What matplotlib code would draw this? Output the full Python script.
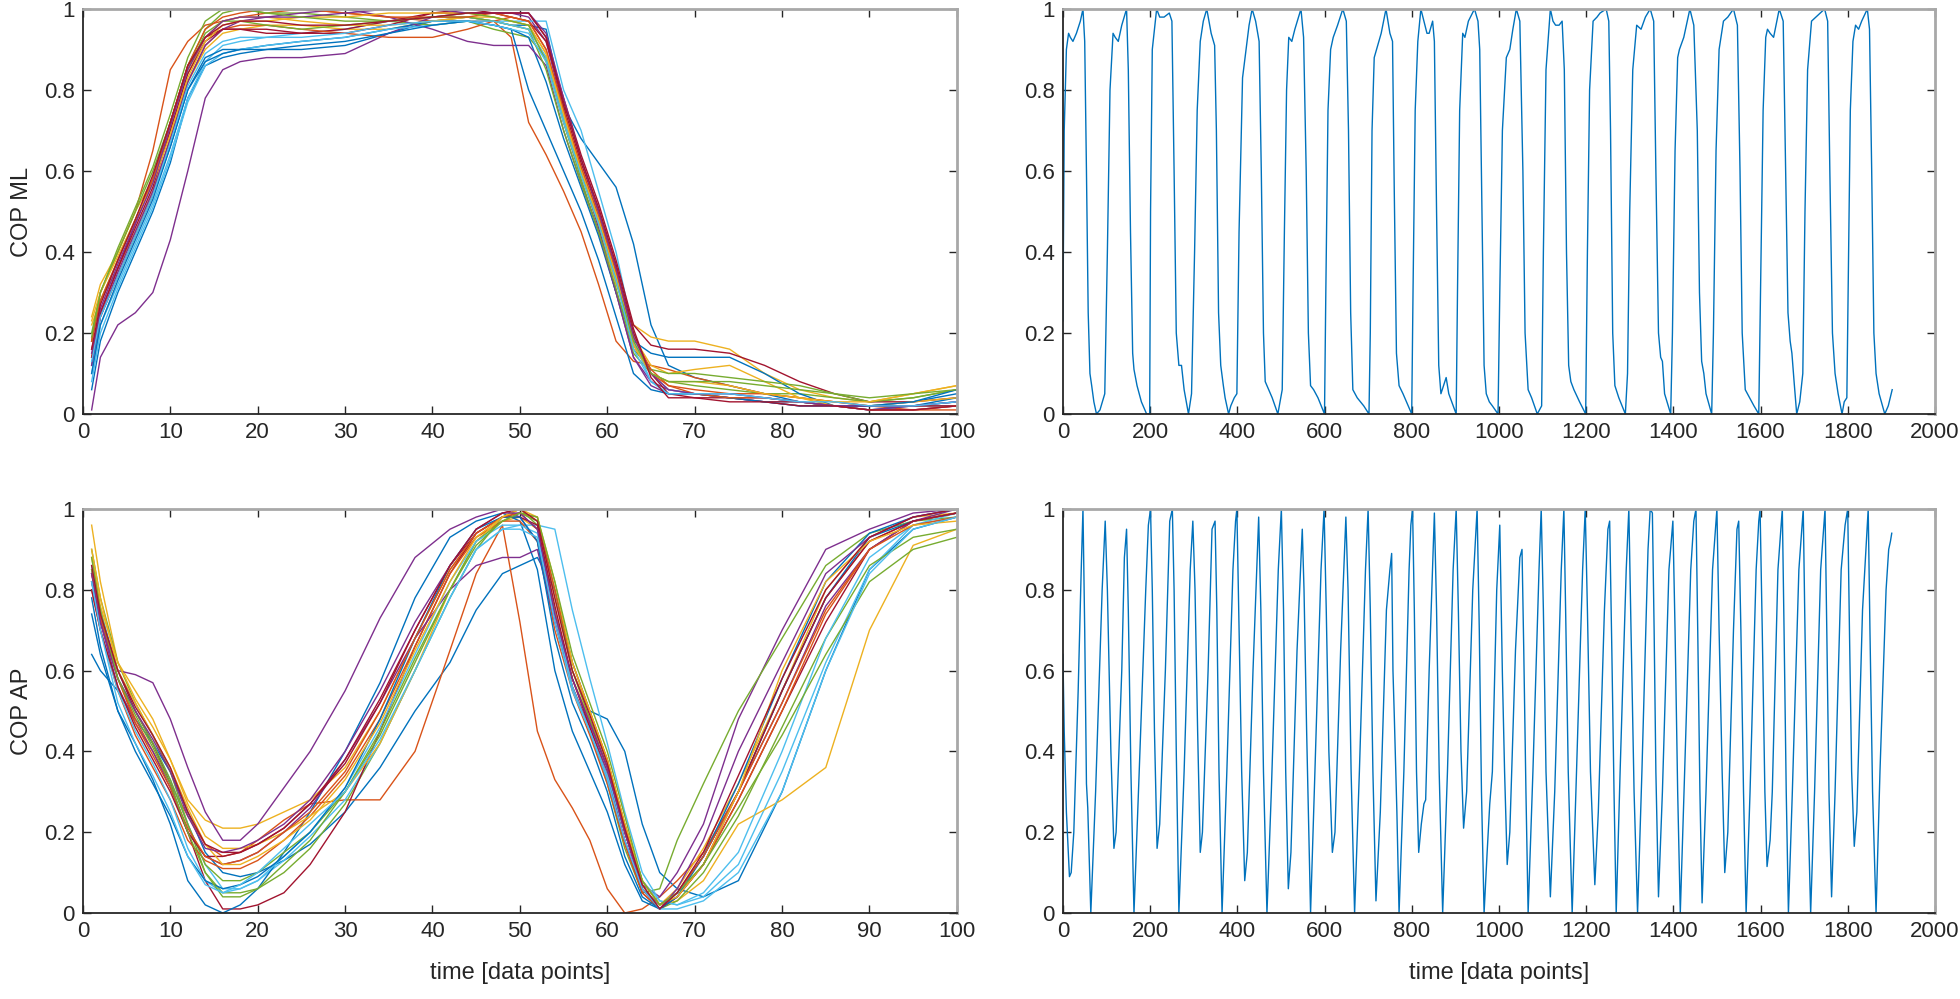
import numpy as np
import matplotlib
matplotlib.use("Agg")
import matplotlib.pyplot as plt

plt.rcParams['font.family'] = ['Liberation Sans', 'DejaVu Sans']

# MATLAB default line colours
colors = ['#0072BD', '#D95319', '#EDB120', '#7E2F8E', '#77AC30', '#4DBEEE', '#A2142F']

# ---- normalised gait cycles, COP ML (x = data point of the cycle) ----
ml_x = [1, 2, 4, 6, 8, 10, 12, 14, 16, 18, 21, 25, 30, 35, 40, 44, 47, 49, 51,
        53, 55, 57, 59, 61, 63, 65, 67, 70, 74, 78, 82, 86, 90, 95, 100]
ml_curves = [
    [0.06, 0.18, 0.30, 0.40, 0.50, 0.62, 0.78, 0.86, 0.88, 0.89, 0.90, 0.90, 0.91, 0.94, 0.97, 0.98, 0.97, 0.96, 0.96, 0.95, 0.76, 0.68, 0.62, 0.56, 0.42, 0.22, 0.12, 0.09, 0.07, 0.05, 0.03, 0.02, 0.02, 0.03, 0.05],
    [0.18, 0.30, 0.40, 0.50, 0.65, 0.85, 0.92, 0.96, 0.97, 0.98, 0.99, 1.00, 0.99, 0.98, 0.97, 0.97, 0.97, 0.93, 0.72, 0.64, 0.55, 0.45, 0.32, 0.18, 0.13, 0.12, 0.11, 0.09, 0.07, 0.05, 0.04, 0.03, 0.02, 0.01, 0.01],
    [0.22, 0.28, 0.36, 0.45, 0.55, 0.68, 0.82, 0.90, 0.94, 0.95, 0.96, 0.96, 0.95, 0.95, 0.97, 0.98, 0.97, 0.96, 0.95, 0.88, 0.74, 0.60, 0.46, 0.32, 0.22, 0.19, 0.18, 0.18, 0.16, 0.10, 0.06, 0.04, 0.03, 0.05, 0.07],
    [0.01, 0.14, 0.22, 0.25, 0.30, 0.43, 0.60, 0.78, 0.85, 0.87, 0.88, 0.88, 0.89, 0.94, 0.98, 0.99, 0.99, 0.99, 0.98, 0.92, 0.75, 0.60, 0.46, 0.30, 0.14, 0.08, 0.06, 0.05, 0.04, 0.03, 0.02, 0.02, 0.01, 0.01, 0.02],
    [0.18, 0.28, 0.38, 0.48, 0.58, 0.72, 0.86, 0.95, 0.99, 1.00, 0.99, 0.99, 0.98, 0.97, 0.96, 0.97, 0.95, 0.94, 0.93, 0.88, 0.72, 0.58, 0.45, 0.30, 0.15, 0.10, 0.08, 0.07, 0.06, 0.05, 0.05, 0.04, 0.03, 0.04, 0.06],
    [0.10, 0.22, 0.32, 0.42, 0.52, 0.64, 0.78, 0.87, 0.91, 0.92, 0.93, 0.94, 0.95, 0.97, 0.98, 0.98, 0.97, 0.97, 0.97, 0.97, 0.80, 0.70, 0.55, 0.40, 0.20, 0.10, 0.06, 0.05, 0.04, 0.03, 0.03, 0.02, 0.02, 0.02, 0.03],
    [0.16, 0.25, 0.36, 0.47, 0.58, 0.72, 0.86, 0.93, 0.95, 0.95, 0.94, 0.94, 0.95, 0.97, 0.99, 0.99, 0.99, 0.98, 0.97, 0.92, 0.78, 0.64, 0.52, 0.38, 0.22, 0.17, 0.16, 0.16, 0.15, 0.12, 0.08, 0.05, 0.03, 0.03, 0.04],
    [0.12, 0.24, 0.34, 0.44, 0.54, 0.66, 0.80, 0.88, 0.90, 0.90, 0.91, 0.92, 0.93, 0.95, 0.97, 0.97, 0.96, 0.95, 0.93, 0.82, 0.68, 0.56, 0.44, 0.30, 0.18, 0.15, 0.14, 0.14, 0.14, 0.10, 0.05, 0.02, 0.01, 0.02, 0.04],
    [0.14, 0.24, 0.34, 0.44, 0.54, 0.68, 0.82, 0.91, 0.95, 0.96, 0.96, 0.95, 0.94, 0.93, 0.93, 0.95, 0.97, 0.98, 0.97, 0.90, 0.74, 0.60, 0.48, 0.33, 0.17, 0.10, 0.07, 0.06, 0.05, 0.05, 0.04, 0.03, 0.02, 0.02, 0.02],
    [0.24, 0.32, 0.40, 0.50, 0.58, 0.70, 0.84, 0.93, 0.97, 0.98, 0.98, 0.97, 0.96, 0.96, 0.97, 0.98, 0.98, 0.97, 0.96, 0.89, 0.74, 0.61, 0.49, 0.35, 0.19, 0.12, 0.10, 0.11, 0.12, 0.08, 0.04, 0.02, 0.02, 0.03, 0.04],
    [0.12, 0.24, 0.35, 0.45, 0.55, 0.68, 0.82, 0.91, 0.95, 0.97, 0.98, 0.99, 1.00, 0.98, 0.95, 0.92, 0.91, 0.91, 0.91, 0.86, 0.70, 0.57, 0.45, 0.30, 0.14, 0.07, 0.05, 0.05, 0.04, 0.04, 0.03, 0.02, 0.01, 0.02, 0.03],
    [0.20, 0.30, 0.40, 0.50, 0.60, 0.72, 0.85, 0.94, 0.97, 0.97, 0.96, 0.95, 0.96, 0.97, 0.98, 0.98, 0.97, 0.96, 0.95, 0.85, 0.70, 0.57, 0.45, 0.31, 0.16, 0.11, 0.10, 0.10, 0.09, 0.08, 0.07, 0.05, 0.03, 0.04, 0.06],
    [0.08, 0.20, 0.31, 0.41, 0.51, 0.63, 0.77, 0.86, 0.89, 0.90, 0.91, 0.92, 0.93, 0.95, 0.96, 0.97, 0.97, 0.96, 0.95, 0.88, 0.73, 0.60, 0.48, 0.34, 0.18, 0.08, 0.05, 0.05, 0.05, 0.04, 0.03, 0.02, 0.02, 0.02, 0.02],
    [0.14, 0.25, 0.36, 0.46, 0.56, 0.70, 0.84, 0.92, 0.95, 0.95, 0.95, 0.94, 0.94, 0.96, 0.99, 1.00, 0.99, 0.99, 0.99, 0.93, 0.76, 0.62, 0.50, 0.36, 0.20, 0.10, 0.05, 0.04, 0.04, 0.03, 0.03, 0.02, 0.02, 0.02, 0.02],
    [0.10, 0.22, 0.33, 0.43, 0.53, 0.66, 0.80, 0.87, 0.89, 0.90, 0.90, 0.91, 0.92, 0.94, 0.96, 0.97, 0.96, 0.95, 0.80, 0.70, 0.60, 0.50, 0.38, 0.24, 0.10, 0.06, 0.05, 0.05, 0.04, 0.03, 0.02, 0.02, 0.02, 0.03, 0.06],
    [0.18, 0.28, 0.38, 0.48, 0.58, 0.72, 0.86, 0.95, 0.98, 0.99, 1.00, 1.00, 0.99, 0.98, 0.98, 0.98, 0.99, 0.98, 0.97, 0.90, 0.75, 0.61, 0.49, 0.35, 0.19, 0.11, 0.07, 0.05, 0.04, 0.04, 0.03, 0.02, 0.01, 0.01, 0.02],
    [0.23, 0.30, 0.39, 0.48, 0.57, 0.69, 0.83, 0.92, 0.96, 0.97, 0.97, 0.98, 0.98, 0.99, 0.99, 0.99, 0.98, 0.97, 0.96, 0.89, 0.74, 0.60, 0.48, 0.34, 0.17, 0.10, 0.08, 0.08, 0.07, 0.05, 0.04, 0.03, 0.03, 0.05, 0.07],
    [0.15, 0.26, 0.37, 0.47, 0.57, 0.71, 0.85, 0.93, 0.97, 0.98, 0.98, 0.98, 0.99, 1.00, 1.00, 0.99, 0.99, 0.99, 0.99, 0.94, 0.78, 0.63, 0.50, 0.36, 0.19, 0.10, 0.06, 0.05, 0.05, 0.04, 0.03, 0.02, 0.02, 0.02, 0.03],
    [0.19, 0.30, 0.41, 0.51, 0.61, 0.74, 0.88, 0.97, 1.00, 1.00, 0.99, 0.98, 0.97, 0.97, 0.98, 0.99, 0.98, 0.97, 0.96, 0.87, 0.72, 0.59, 0.47, 0.33, 0.18, 0.10, 0.08, 0.08, 0.08, 0.07, 0.06, 0.05, 0.04, 0.05, 0.06],
    [0.13, 0.24, 0.34, 0.44, 0.54, 0.67, 0.81, 0.89, 0.92, 0.93, 0.93, 0.93, 0.94, 0.96, 0.97, 0.97, 0.96, 0.95, 0.94, 0.87, 0.72, 0.59, 0.47, 0.33, 0.16, 0.08, 0.05, 0.05, 0.05, 0.04, 0.03, 0.03, 0.02, 0.02, 0.03],
    [0.16, 0.27, 0.38, 0.48, 0.59, 0.72, 0.86, 0.93, 0.96, 0.97, 0.97, 0.96, 0.96, 0.97, 0.98, 0.99, 0.99, 0.99, 0.99, 0.93, 0.77, 0.63, 0.51, 0.37, 0.21, 0.09, 0.04, 0.04, 0.03, 0.03, 0.02, 0.02, 0.01, 0.01, 0.02],
]

# ---- normalised gait cycles, COP AP ----
ap_x = [1, 2, 4, 6, 8, 10, 12, 14, 16, 18, 20, 23, 26, 30, 34, 38, 42, 45, 48,
        50, 52, 54, 56, 58, 60, 62, 64, 66, 68, 71, 75, 80, 85, 90, 95, 100]
ap_curves = [
    [0.64, 0.60, 0.55, 0.48, 0.42, 0.35, 0.25, 0.15, 0.10, 0.09, 0.10, 0.13, 0.17, 0.25, 0.36, 0.50, 0.62, 0.75, 0.84, 0.86, 0.88, 0.80, 0.62, 0.50, 0.48, 0.40, 0.22, 0.10, 0.06, 0.04, 0.08, 0.30, 0.60, 0.85, 0.95, 0.98],
    [0.82, 0.72, 0.58, 0.48, 0.40, 0.32, 0.24, 0.17, 0.14, 0.15, 0.18, 0.23, 0.27, 0.28, 0.28, 0.40, 0.65, 0.84, 0.96, 0.72, 0.45, 0.33, 0.26, 0.18, 0.06, 0.00, 0.01, 0.04, 0.08, 0.15, 0.30, 0.55, 0.78, 0.92, 0.97, 0.99],
    [0.96, 0.82, 0.62, 0.55, 0.48, 0.38, 0.28, 0.23, 0.21, 0.21, 0.22, 0.25, 0.28, 0.36, 0.50, 0.68, 0.85, 0.93, 0.97, 0.98, 0.95, 0.75, 0.58, 0.48, 0.38, 0.22, 0.08, 0.02, 0.06, 0.16, 0.32, 0.55, 0.80, 0.93, 0.98, 0.99],
    [0.85, 0.72, 0.60, 0.59, 0.57, 0.48, 0.36, 0.25, 0.18, 0.18, 0.22, 0.31, 0.40, 0.55, 0.73, 0.88, 0.95, 0.98, 1.00, 0.98, 0.92, 0.72, 0.56, 0.46, 0.35, 0.20, 0.07, 0.04, 0.10, 0.22, 0.48, 0.70, 0.90, 0.95, 0.99, 1.00],
    [0.90, 0.78, 0.62, 0.52, 0.44, 0.35, 0.22, 0.10, 0.05, 0.05, 0.06, 0.10, 0.16, 0.27, 0.42, 0.60, 0.78, 0.90, 0.98, 1.00, 0.96, 0.74, 0.56, 0.45, 0.32, 0.16, 0.05, 0.06, 0.18, 0.32, 0.50, 0.68, 0.86, 0.94, 0.97, 0.98],
    [0.86, 0.75, 0.60, 0.50, 0.42, 0.33, 0.22, 0.12, 0.06, 0.06, 0.08, 0.13, 0.19, 0.28, 0.42, 0.60, 0.78, 0.90, 0.95, 0.96, 0.96, 0.95, 0.75, 0.58, 0.42, 0.25, 0.10, 0.03, 0.02, 0.04, 0.12, 0.35, 0.62, 0.85, 0.96, 0.99],
    [0.84, 0.74, 0.60, 0.50, 0.42, 0.32, 0.20, 0.08, 0.01, 0.01, 0.02, 0.05, 0.12, 0.25, 0.45, 0.66, 0.84, 0.94, 0.98, 0.99, 0.95, 0.74, 0.58, 0.46, 0.34, 0.18, 0.05, 0.01, 0.04, 0.12, 0.28, 0.50, 0.72, 0.90, 0.97, 0.99],
    [0.78, 0.66, 0.50, 0.42, 0.33, 0.22, 0.08, 0.02, 0.00, 0.02, 0.06, 0.15, 0.25, 0.40, 0.57, 0.78, 0.93, 0.97, 0.99, 0.97, 0.85, 0.60, 0.45, 0.35, 0.25, 0.12, 0.03, 0.01, 0.05, 0.14, 0.30, 0.55, 0.78, 0.93, 0.97, 0.99],
    [0.80, 0.70, 0.55, 0.44, 0.36, 0.28, 0.18, 0.13, 0.11, 0.11, 0.13, 0.18, 0.24, 0.34, 0.48, 0.66, 0.84, 0.93, 0.97, 0.97, 0.92, 0.70, 0.55, 0.44, 0.32, 0.17, 0.05, 0.01, 0.04, 0.12, 0.28, 0.50, 0.74, 0.90, 0.97, 0.99],
    [0.88, 0.76, 0.62, 0.53, 0.46, 0.38, 0.27, 0.19, 0.16, 0.16, 0.17, 0.20, 0.24, 0.30, 0.42, 0.60, 0.80, 0.92, 0.98, 1.00, 0.97, 0.78, 0.60, 0.50, 0.38, 0.22, 0.08, 0.02, 0.03, 0.08, 0.22, 0.28, 0.36, 0.70, 0.91, 0.95],
    [0.82, 0.72, 0.56, 0.47, 0.40, 0.31, 0.20, 0.14, 0.12, 0.13, 0.15, 0.20, 0.26, 0.38, 0.52, 0.68, 0.80, 0.86, 0.88, 0.88, 0.90, 0.72, 0.56, 0.45, 0.33, 0.18, 0.06, 0.02, 0.05, 0.14, 0.30, 0.52, 0.76, 0.90, 0.97, 1.00],
    [0.85, 0.74, 0.58, 0.50, 0.42, 0.33, 0.22, 0.12, 0.08, 0.08, 0.10, 0.15, 0.20, 0.30, 0.44, 0.62, 0.80, 0.92, 0.97, 0.99, 0.97, 0.80, 0.60, 0.48, 0.36, 0.20, 0.07, 0.01, 0.03, 0.10, 0.24, 0.46, 0.68, 0.86, 0.93, 0.95],
    [0.82, 0.70, 0.55, 0.45, 0.37, 0.28, 0.16, 0.08, 0.05, 0.06, 0.08, 0.14, 0.20, 0.31, 0.46, 0.64, 0.82, 0.92, 0.96, 0.96, 0.94, 0.74, 0.56, 0.45, 0.34, 0.20, 0.08, 0.03, 0.02, 0.05, 0.15, 0.40, 0.68, 0.88, 0.96, 0.98],
    [0.80, 0.70, 0.56, 0.46, 0.38, 0.30, 0.20, 0.14, 0.14, 0.15, 0.17, 0.21, 0.27, 0.37, 0.52, 0.70, 0.86, 0.94, 0.98, 0.98, 0.96, 0.76, 0.58, 0.47, 0.36, 0.20, 0.06, 0.01, 0.04, 0.12, 0.30, 0.55, 0.78, 0.92, 0.97, 0.99],
    [0.74, 0.64, 0.50, 0.40, 0.32, 0.24, 0.14, 0.08, 0.06, 0.07, 0.09, 0.14, 0.20, 0.31, 0.48, 0.68, 0.86, 0.95, 0.98, 0.98, 0.92, 0.68, 0.52, 0.42, 0.30, 0.14, 0.04, 0.01, 0.04, 0.14, 0.32, 0.58, 0.82, 0.94, 0.98, 1.00],
    [0.84, 0.73, 0.58, 0.47, 0.39, 0.31, 0.21, 0.14, 0.12, 0.13, 0.15, 0.20, 0.25, 0.35, 0.50, 0.68, 0.85, 0.94, 0.98, 0.99, 0.98, 0.80, 0.62, 0.50, 0.38, 0.22, 0.08, 0.02, 0.05, 0.14, 0.30, 0.52, 0.75, 0.90, 0.96, 0.98],
    [0.90, 0.78, 0.60, 0.52, 0.44, 0.36, 0.26, 0.17, 0.12, 0.12, 0.14, 0.18, 0.23, 0.33, 0.47, 0.65, 0.82, 0.93, 0.98, 1.00, 0.98, 0.82, 0.62, 0.50, 0.38, 0.22, 0.08, 0.02, 0.04, 0.12, 0.30, 0.60, 0.82, 0.92, 0.96, 0.97],
    [0.84, 0.72, 0.58, 0.50, 0.43, 0.35, 0.24, 0.16, 0.15, 0.16, 0.18, 0.22, 0.28, 0.40, 0.55, 0.72, 0.86, 0.95, 0.99, 0.99, 0.95, 0.74, 0.58, 0.47, 0.36, 0.20, 0.06, 0.01, 0.06, 0.18, 0.40, 0.62, 0.84, 0.93, 0.98, 1.00],
    [0.88, 0.75, 0.58, 0.49, 0.41, 0.32, 0.20, 0.10, 0.04, 0.04, 0.06, 0.12, 0.18, 0.30, 0.45, 0.63, 0.80, 0.91, 0.97, 0.99, 0.98, 0.82, 0.64, 0.52, 0.40, 0.24, 0.08, 0.02, 0.05, 0.12, 0.26, 0.44, 0.64, 0.82, 0.90, 0.93],
    [0.82, 0.70, 0.52, 0.42, 0.34, 0.25, 0.14, 0.07, 0.05, 0.07, 0.10, 0.16, 0.22, 0.30, 0.43, 0.60, 0.78, 0.90, 0.95, 0.95, 0.93, 0.72, 0.55, 0.45, 0.33, 0.18, 0.06, 0.01, 0.01, 0.03, 0.10, 0.30, 0.60, 0.84, 0.95, 0.98],
    [0.86, 0.74, 0.60, 0.51, 0.44, 0.36, 0.25, 0.17, 0.15, 0.15, 0.17, 0.21, 0.27, 0.38, 0.53, 0.70, 0.86, 0.95, 0.99, 1.00, 0.97, 0.78, 0.60, 0.49, 0.37, 0.21, 0.07, 0.01, 0.05, 0.15, 0.34, 0.58, 0.80, 0.93, 0.98, 1.00],
]

# ---- full recording, COP ML (turning points) ----
ml_t = [0, 3, 8, 13, 17, 23, 31, 40, 46, 50, 54, 58, 62, 66, 71, 77,
        85, 96, 102, 108, 115, 120, 127, 135, 146, 150, 155, 160, 163, 170, 180, 192,
        199, 201, 205, 215, 222, 232, 244, 250, 255, 260, 266, 272, 278, 288,
        295, 302, 308, 315, 322, 330, 340, 348, 352, 357, 362, 368, 372, 380, 385, 393,
        399, 404, 412, 420, 427, 434, 442, 450, 455, 460, 464, 472, 480, 493,
        503, 508, 513, 518, 525, 532, 546, 552, 558, 563, 568, 575, 585, 600,
        603, 608, 614, 620, 630, 642, 650, 655, 660, 665, 675, 690, 702,
        705, 709, 714, 722, 730, 741, 750, 756, 760, 765, 771, 780, 788, 800,
        803, 808, 814, 821, 828, 835, 840, 848, 852, 857, 862, 867, 873, 879, 885, 902,
        905, 910, 917, 922, 930, 944, 952, 956, 961, 966, 971, 978, 985, 998,
        1002, 1008, 1017, 1025, 1032, 1040, 1048, 1055, 1060, 1067, 1075, 1088, 1098,
        1102, 1108, 1118, 1124, 1130, 1138, 1145, 1150, 1155, 1160, 1165, 1172, 1185, 1199,
        1203, 1208, 1216, 1225, 1232, 1246, 1252, 1256, 1261, 1266, 1275, 1290,
        1295, 1300, 1307, 1316, 1326, 1336, 1347, 1355, 1360, 1366, 1371, 1375, 1380, 1394,
        1398, 1404, 1410, 1414, 1424, 1438, 1447, 1455, 1460, 1465, 1470, 1475, 1488,
        1492, 1498, 1505, 1515, 1525, 1538, 1547, 1553, 1558, 1565, 1575, 1585, 1596,
        1600, 1606, 1612, 1616, 1622, 1630, 1643, 1652, 1657, 1663, 1668, 1672, 1677, 1683,
        1690, 1697, 1702, 1708, 1717, 1727, 1737, 1747, 1754, 1759, 1765, 1771, 1778, 1787, 1792, 1798,
        1801, 1806, 1812, 1818, 1825, 1832, 1845, 1850, 1855, 1860, 1865, 1872, 1885, 1893, 1902]
ml_v = [0.23, 0.70, 0.90, 0.94, 0.93, 0.92, 0.94, 0.97, 1.00, 0.92, 0.60, 0.25, 0.10, 0.07, 0.03, 0.00,
        0.01, 0.05, 0.40, 0.80, 0.94, 0.93, 0.92, 0.96, 1.00, 0.85, 0.45, 0.15, 0.11, 0.07, 0.03, 0.00,
        0.00, 0.50, 0.90, 1.00, 0.98, 0.98, 0.99, 0.97, 0.60, 0.20, 0.12, 0.12, 0.06, 0.00,
        0.05, 0.40, 0.75, 0.92, 0.97, 1.00, 0.94, 0.91, 0.70, 0.25, 0.12, 0.07, 0.04, 0.00, 0.02, 0.04,
        0.05, 0.45, 0.83, 0.90, 0.96, 1.00, 0.97, 0.92, 0.60, 0.20, 0.08, 0.06, 0.04, 0.00,
        0.06, 0.45, 0.80, 0.93, 0.92, 0.95, 1.00, 0.93, 0.60, 0.20, 0.07, 0.06, 0.04, 0.00,
        0.30, 0.75, 0.90, 0.93, 0.96, 1.00, 0.97, 0.70, 0.25, 0.06, 0.04, 0.02, 0.00,
        0.20, 0.70, 0.88, 0.91, 0.94, 1.00, 0.94, 0.92, 0.55, 0.15, 0.07, 0.05, 0.03, 0.00,
        0.30, 0.75, 0.92, 1.00, 0.97, 0.94, 0.94, 0.97, 0.92, 0.50, 0.12, 0.05, 0.07, 0.09, 0.05, 0.00,
        0.30, 0.75, 0.94, 0.93, 0.97, 1.00, 0.97, 0.90, 0.50, 0.12, 0.05, 0.03, 0.02, 0.00,
        0.30, 0.70, 0.88, 0.90, 0.95, 1.00, 0.97, 0.60, 0.20, 0.06, 0.04, 0.00, 0.02,
        0.40, 0.85, 1.00, 0.97, 0.96, 0.96, 0.97, 0.85, 0.40, 0.12, 0.08, 0.06, 0.03, 0.00,
        0.40, 0.80, 0.97, 0.98, 0.99, 1.00, 0.97, 0.70, 0.20, 0.07, 0.04, 0.00,
        0.10, 0.50, 0.85, 0.96, 0.95, 0.98, 1.00, 0.97, 0.60, 0.20, 0.14, 0.13, 0.05, 0.00,
        0.20, 0.65, 0.88, 0.90, 0.93, 1.00, 0.96, 0.70, 0.30, 0.13, 0.10, 0.05, 0.00,
        0.20, 0.65, 0.90, 0.97, 0.98, 1.00, 0.96, 0.60, 0.20, 0.06, 0.04, 0.02, 0.00,
        0.30, 0.75, 0.93, 0.95, 0.94, 0.93, 1.00, 0.97, 0.65, 0.25, 0.18, 0.15, 0.08, 0.00,
        0.03, 0.10, 0.50, 0.85, 0.97, 0.98, 0.99, 1.00, 0.97, 0.60, 0.20, 0.10, 0.05, 0.00, 0.03, 0.04,
        0.30, 0.75, 0.92, 0.96, 0.95, 0.97, 1.00, 0.95, 0.60, 0.20, 0.10, 0.05, 0.00, 0.02, 0.06]

# ---- full recording, COP AP ----
ap_t = [0, 3, 8, 15, 19, 25, 35, 42, 46, 50, 54, 57, 64,
        75, 90, 97, 102, 110, 117, 122, 135, 141, 144, 146, 150, 156, 163,
        175, 190, 196, 201, 205, 210, 216, 222, 235, 245, 251, 255, 260, 266,
        278, 292, 298, 303, 309, 315, 320, 333, 342, 349, 353, 358, 365,
        376, 390, 396, 399, 404, 410, 417, 423, 436, 449, 454, 460, 468,
        478, 494, 501, 506, 511, 517, 523, 537, 549, 553, 559, 568,
        578, 592, 599, 604, 610, 618, 624, 637, 649, 654, 661, 669,
        680, 694, 700, 705, 711, 718, 728, 742, 750, 754, 757, 760, 766, 771,
        782, 794, 798, 802, 806, 811, 816, 822, 828, 832, 840, 852, 857, 863, 871,
        882, 895, 902, 907, 913, 919, 926, 940, 950, 955, 960, 966,
        973, 979, 985, 995, 1002, 1008, 1013, 1019, 1025, 1038, 1048, 1053, 1057, 1062, 1067,
        1078, 1092, 1097, 1102, 1108, 1118, 1128, 1143, 1149, 1153, 1159, 1168,
        1178, 1192, 1198, 1203, 1210, 1220, 1228, 1242, 1250, 1254, 1259, 1264, 1269,
        1278, 1292, 1298, 1303, 1310, 1318, 1328, 1342, 1347, 1352, 1356, 1360, 1366,
        1375, 1390, 1399, 1404, 1410, 1416, 1426, 1440, 1447, 1452, 1456, 1461, 1466,
        1475, 1490, 1500, 1505, 1512, 1518, 1525, 1538, 1546, 1550, 1555, 1561, 1567,
        1576, 1590, 1596, 1599, 1604, 1610, 1615, 1622, 1627, 1640, 1650, 1654, 1659, 1664,
        1673, 1688, 1698, 1702, 1708, 1715, 1724, 1738, 1748, 1752, 1757, 1763,
        1771, 1785, 1794, 1800, 1804, 1809, 1815, 1821, 1834, 1847, 1851, 1857, 1865,
        1874, 1888, 1894, 1898, 1901]
ap_v = [0.64, 0.45, 0.25, 0.09, 0.10, 0.20, 0.55, 0.85, 1.00, 0.70, 0.32, 0.26, 0.00,
        0.30, 0.80, 0.97, 0.80, 0.40, 0.16, 0.20, 0.60, 0.88, 0.92, 0.95, 0.75, 0.35, 0.00,
        0.35, 0.80, 0.96, 1.00, 0.80, 0.45, 0.16, 0.22, 0.60, 0.97, 1.00, 0.80, 0.40, 0.00,
        0.35, 0.85, 0.97, 0.80, 0.45, 0.15, 0.20, 0.60, 0.95, 0.97, 0.75, 0.35, 0.00,
        0.35, 0.85, 0.97, 1.00, 0.70, 0.35, 0.08, 0.15, 0.60, 0.98, 0.75, 0.35, 0.00,
        0.30, 0.85, 1.00, 0.75, 0.35, 0.06, 0.15, 0.65, 0.95, 0.80, 0.45, 0.00,
        0.35, 0.85, 1.00, 0.75, 0.40, 0.15, 0.20, 0.65, 0.98, 0.80, 0.35, 0.00,
        0.35, 0.85, 1.00, 0.75, 0.35, 0.03, 0.25, 0.75, 0.85, 0.89, 0.60, 0.49, 0.25, 0.00,
        0.35, 0.85, 0.96, 1.00, 0.75, 0.35, 0.15, 0.22, 0.27, 0.28, 0.60, 0.99, 0.75, 0.35, 0.00,
        0.35, 0.85, 1.00, 0.75, 0.40, 0.21, 0.30, 0.80, 1.00, 0.70, 0.30, 0.00,
        0.15, 0.27, 0.35, 0.80, 0.96, 0.59, 0.35, 0.12, 0.20, 0.65, 0.88, 0.90, 0.65, 0.30, 0.00,
        0.35, 0.85, 1.00, 0.75, 0.35, 0.04, 0.30, 0.85, 1.00, 0.75, 0.35, 0.00,
        0.35, 0.85, 1.00, 0.75, 0.35, 0.07, 0.25, 0.75, 0.95, 0.97, 0.65, 0.30, 0.00,
        0.35, 0.85, 1.00, 0.70, 0.30, 0.00, 0.35, 0.90, 1.00, 0.99, 0.70, 0.35, 0.04,
        0.30, 0.85, 0.97, 0.70, 0.30, 0.00, 0.35, 0.85, 0.97, 1.00, 0.70, 0.30, 0.025,
        0.30, 0.85, 1.00, 0.70, 0.35, 0.10, 0.20, 0.70, 0.95, 0.97, 0.70, 0.30, 0.00,
        0.30, 0.85, 0.97, 1.00, 0.70, 0.30, 0.115, 0.18, 0.30, 0.85, 1.00, 0.70, 0.30, 0.00,
        0.30, 0.85, 1.00, 0.70, 0.30, 0.00, 0.30, 0.85, 1.00, 0.70, 0.30, 0.04,
        0.30, 0.85, 0.96, 1.00, 0.70, 0.35, 0.165, 0.25, 0.75, 1.00, 0.70, 0.30, 0.00,
        0.35, 0.80, 0.90, 0.92, 0.94]

yticks = [0, 0.2, 0.4, 0.6, 0.8, 1]
ytick_labels = ['0', '0.2', '0.4', '0.6', '0.8', '1']


def style_axes(ax, xmax, xstep):
    ax.set_xlim(0, xmax)
    ax.set_ylim(0, 1)
    ax.set_xticks(np.arange(0, xmax + 1, xstep))
    ax.set_yticks(yticks)
    ax.set_yticklabels(ytick_labels)
    ax.tick_params(direction='in', length=5.5, width=1.0, colors='#262626',
                   labelsize=16, top=True, right=True, pad=6)
    ax.tick_params(axis='both', labelcolor='#262626')
    for side in ['left', 'bottom']:
        ax.spines[side].set_color('#262626')
        ax.spines[side].set_linewidth(1.3)
    for side in ['top', 'right']:
        ax.spines[side].set_color('#a8a8a8')
        ax.spines[side].set_linewidth(2.0)


fig = plt.figure(figsize=(19.6, 9.99), dpi=100)
ax_ml = fig.add_axes([0.0423, 0.5856, 0.4459, 0.4054])
ax_ml_full = fig.add_axes([0.5423, 0.5856, 0.4449, 0.4054])
ax_ap = fig.add_axes([0.0423, 0.0861, 0.4459, 0.4044])
ax_ap_full = fig.add_axes([0.5423, 0.0861, 0.4449, 0.4044])

for i, ys in enumerate(ml_curves):
    ax_ml.plot(ml_x, ys, color=colors[i % 7], lw=1.0)
for i, ys in enumerate(ap_curves):
    ax_ap.plot(ap_x, ys, color=colors[i % 7], lw=1.0)

ax_ml_full.plot(ml_t, ml_v, color=colors[0], lw=1.0)
ax_ap_full.plot(ap_t, ap_v, color=colors[0], lw=1.0)

style_axes(ax_ml, 100, 10)
style_axes(ax_ap, 100, 10)
style_axes(ax_ml_full, 2000, 200)
style_axes(ax_ap_full, 2000, 200)

ax_ml.set_ylabel('COP ML', fontsize=17, color='#262626', labelpad=8)
ax_ap.set_ylabel('COP AP', fontsize=17, color='#262626', labelpad=8)
ax_ap.set_xlabel('time [data points]', fontsize=17, color='#262626', labelpad=14)
ax_ap_full.set_xlabel('time [data points]', fontsize=17, color='#262626', labelpad=14)

fig.savefig('out.png', dpi=100)
